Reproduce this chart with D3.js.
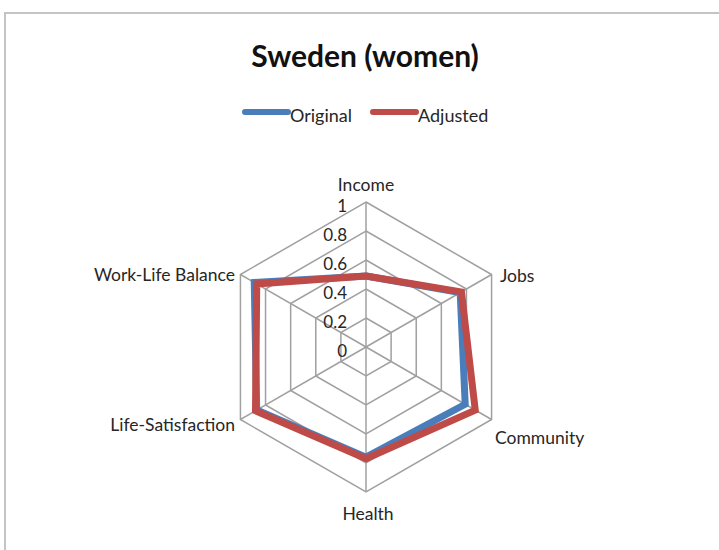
<!DOCTYPE html>
<meta charset="UTF-8">
<script src="https://cdnjs.cloudflare.com/ajax/libs/d3/7.4.4/d3.min.js"></script>
<style>
    body { margin: 0; background: #fff; }
    text { font-family: Lato, "Noto Sans", sans-serif; fill: #262626; }
</style>
<svg id="chart" width="719" height="550"></svg>
<script>
    // chart data
    let categories = ["Income", "Jobs", "Community", "Health", "Life-Satisfaction", "Work-Life Balance"];
    let original = [0.49, 0.75, 0.79, 0.76, 0.87, 0.89];
    let adjusted = [0.49, 0.76, 0.87, 0.77, 0.88, 0.87];
    let ticks = [0, 0.2, 0.4, 0.6, 0.8, 1];
    let seriesNames = ["Original", "Adjusted"];
    let seriesColors = ["#4a7ebb", "#be4b48"];

    let svg = d3.select("svg"),
        width = +svg.attr("width"),
        height = +svg.attr("height");

    // frame
    svg.append("rect")
        .attr("x", 5).attr("y", 13)
        .attr("width", width + 10).attr("height", height + 10)
        .style("fill", "none")
        .style("stroke", "#c4c4c4")
        .style("stroke-width", 2);

    svg.append("text")
        .attr("x", 365).attr("y", 67)
        .style("text-anchor", "middle")
        .style("font-size", "30px")
        .style("font-weight", "bold")
        .style("fill", "#111")
        .text("Sweden (women)");

    let cx = 366, cy = 347, R = 145;
    let r = d3.scaleLinear().domain([0, 1]).range([0, R]);
    let angle = d3.scalePoint().domain(categories).range([0, 2 * Math.PI * 5 / 6]);

    function pt(cat, v) {
        let a = angle(cat);
        return [cx + r(v) * Math.sin(a), cy - r(v) * Math.cos(a)];
    }

    let g = svg.append("g");

    // rings
    g.selectAll(".ring")
        .data(ticks.slice(1))
        .enter().append("polygon")
        .attr("points", function (t) {
            return categories.map(function (c) { return pt(c, t).join(","); }).join(" ");
        })
        .style("fill", "none")
        .style("stroke", "#a0a0a0")
        .style("stroke-width", 1.5);

    // spokes
    g.selectAll(".spoke")
        .data(categories)
        .enter().append("line")
        .attr("x1", cx).attr("y1", cy)
        .attr("x2", function (c) { return pt(c, 1)[0]; })
        .attr("y2", function (c) { return pt(c, 1)[1]; })
        .style("stroke", "#a0a0a0")
        .style("stroke-width", 1.5);

    // series
    let line = d3.line().curve(d3.curveLinearClosed);
    [original, adjusted].forEach(function (vals, i) {
        g.append("path")
            .attr("d", line(categories.map(function (c, j) { return pt(c, vals[j]); })))
            .style("fill", "none")
            .style("stroke", seriesColors[i])
            .style("stroke-width", 7)
            .style("stroke-linejoin", "miter");
    });

    // tick labels
    g.selectAll(".tick")
        .data(ticks)
        .enter().append("text")
        .attr("x", cx - 19)
        .attr("y", function (t) { return cy - r(t) + 10; })
        .style("text-anchor", "end")
        .style("font-size", "17px")
        .text(function (t) { return d3.format("")(t); });

    // category labels
    let labelPos = {
        "Income": [366, 191, "middle"],
        "Jobs": [500, 282, "start"],
        "Community": [495, 444, "start"],
        "Health": [368, 520, "middle"],
        "Life-Satisfaction": [235, 431, "end"],
        "Work-Life Balance": [235, 281, "end"]
    };
    g.selectAll(".cat")
        .data(categories)
        .enter().append("text")
        .attr("x", function (c) { return labelPos[c][0]; })
        .attr("y", function (c) { return labelPos[c][1]; })
        .style("text-anchor", function (c) { return labelPos[c][2]; })
        .style("font-size", "17.5px")
        .text(function (c) { return c; });

    // legend
    let legX = [245, 373];
    seriesNames.forEach(function (n, i) {
        svg.append("line")
            .attr("x1", legX[i]).attr("x2", legX[i] + 43)
            .attr("y1", 112).attr("y2", 112)
            .style("stroke", seriesColors[i])
            .style("stroke-width", 6)
            .style("stroke-linecap", "round");
        svg.append("text")
            .attr("x", legX[i] + 45).attr("y", 122)
            .style("font-size", "18px")
            .text(n);
    });
</script>
